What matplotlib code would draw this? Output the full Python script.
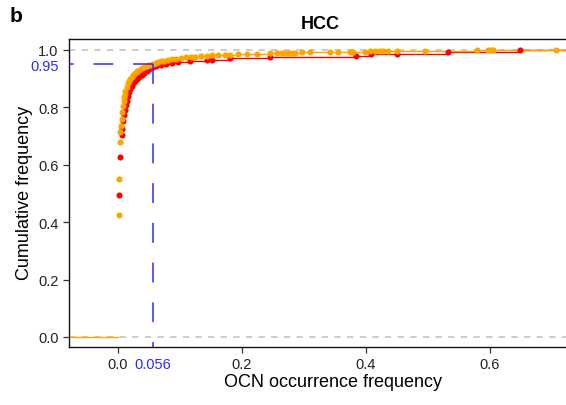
import numpy as np
import matplotlib
matplotlib.use("Agg")
import matplotlib.pyplot as plt

plt.rcParams["font.family"] = ["Liberation Sans", "DejaVu Sans"]

# cumulative frequency of OCN occurrence, one point per distinct value
red_x = [0.002, 0.004, 0.006, 0.007, 0.008, 0.010, 0.011, 0.013, 0.014, 0.016,
         0.018, 0.020, 0.022, 0.025, 0.028, 0.031, 0.034, 0.038, 0.042, 0.046,
         0.050, 0.056, 0.062, 0.070, 0.078, 0.087, 0.097, 0.116, 0.143, 0.151,
         0.181, 0.245, 0.384, 0.408, 0.450, 0.533, 0.648]
red_y = [0.495, 0.628, 0.704, 0.725, 0.754, 0.772, 0.789, 0.808, 0.823, 0.841,
         0.852, 0.864, 0.876, 0.884, 0.893, 0.900, 0.906, 0.914, 0.921, 0.927,
         0.932, 0.940, 0.944, 0.949, 0.952, 0.956, 0.958, 0.961, 0.965, 0.966,
         0.972, 0.975, 0.980, 0.985, 0.987, 0.992, 1.000]

orange_x = [0.001, 0.002, 0.003, 0.004, 0.005, 0.006, 0.007, 0.008, 0.009, 0.010,
            0.011, 0.012, 0.014, 0.016, 0.018, 0.020, 0.022, 0.025, 0.028, 0.031,
            0.034, 0.038, 0.042, 0.046, 0.049, 0.053, 0.057, 0.061, 0.065, 0.070,
            0.075, 0.081, 0.087, 0.094, 0.101, 0.109, 0.117, 0.125, 0.134, 0.143,
            0.152, 0.162, 0.172, 0.181, 0.194, 0.208, 0.224, 0.245, 0.256, 0.264,
            0.269, 0.275, 0.280, 0.285, 0.296, 0.310, 0.342, 0.355, 0.374, 0.377,
            0.379, 0.398, 0.406, 0.415, 0.423, 0.428, 0.436, 0.450, 0.495, 0.579,
            0.597, 0.602, 0.605, 0.707]
orange_y = [0.426, 0.550, 0.680, 0.715, 0.735, 0.760, 0.783, 0.806, 0.822, 0.836,
            0.848, 0.858, 0.872, 0.883, 0.892, 0.899, 0.906, 0.913, 0.920, 0.926,
            0.931, 0.936, 0.940, 0.944, 0.946, 0.949, 0.952, 0.955, 0.957, 0.960,
            0.962, 0.965, 0.968, 0.970, 0.972, 0.974, 0.976, 0.977, 0.979, 0.980,
            0.981, 0.982, 0.983, 0.984, 0.985, 0.986, 0.987, 0.988, 0.988, 0.989,
            0.989, 0.990, 0.990, 0.990, 0.991, 0.991, 0.992, 0.992, 0.993, 0.993,
            0.994, 0.994, 0.995, 0.995, 0.996, 0.996, 0.996, 0.997, 0.997, 0.998,
            0.998, 0.999, 0.999, 1.000]

cut_x = 0.056
cut_y = 0.95
xticks = [0.0, cut_x, 0.2, 0.4, 0.6]
xticklabels = ["0.0", "0.056", "0.2", "0.4", "0.6"]
yticks = [0.0, 0.2, 0.4, 0.6, 0.8, cut_y, 1.0]
yticklabels = ["0.0", "0.2", "0.4", "0.6", "0.8", "0.95", "1.0"]

xmin, xmax = -0.079, 0.7226
ymin, ymax = -0.035, 1.038

fig = plt.figure(figsize=(5.66, 4.06), dpi=100)
ax = fig.add_axes([69 / 566, 58 / 406, 1 - 69 / 566, 308 / 406])

grey = "#c8c8c8"
blue = "#2b2bff"
ax.axhline(0, color=grey, lw=1.3, ls=(0, (3.5, 3.5)), zorder=1)
ax.axhline(1, color=grey, lw=1.3, ls=(0, (3.5, 3.5)), zorder=1)

for xs, ys, col in [(red_x, red_y, "#ff0000"), (orange_x, orange_y, "#ffa500")]:
    xs = np.array(xs)
    ys = np.array(ys)
    # flat runs of the ecdf, no risers
    ax.hlines(ys, xs, np.r_[xs[1:], xmax], color=col, lw=1.0, zorder=2)
    ax.plot(xs, ys, "o", color=col, ms=4.4, mew=0, zorder=3)
# lower tail of the ecdf
ax.plot([xmin, 0.0], [0, 0], color="#ffa500", lw=1.0, zorder=2)

ax.plot([cut_x, xmin], [cut_y, cut_y], color=blue, lw=1.1, ls=(0, (13, 13)), zorder=4)
ax.plot([cut_x, cut_x], [cut_y, ymin], color=blue, lw=1.1, ls=(0, (13, 13)), zorder=4)

ax.set_xlim(xmin, xmax)
ax.set_ylim(ymin, ymax)
ax.set_xticks(xticks)
ax.set_xticklabels(xticklabels)
ax.set_yticks(yticks)
ax.set_yticklabels(yticklabels)
ax.tick_params(labelsize=10.5, length=4, width=0.9, color="#333333", labelcolor="#222222")
ax.get_xticklabels()[1].set_color(blue)
ax.get_yticklabels()[5].set_color(blue)
ax.xaxis.get_major_ticks()[1].tick1line.set_visible(False)
ax.yaxis.get_major_ticks()[5].tick1line.set_visible(False)

for s in ["left", "bottom", "top"]:
    ax.spines[s].set_linewidth(1.0)
    ax.spines[s].set_color("#111111")
ax.spines["right"].set_visible(False)

ax.set_xlabel("OCN occurrence frequency", fontsize=13)
ax.xaxis.set_label_coords(0.531, -0.083)
ax.set_ylabel("Cumulative frequency", fontsize=13)
ax.yaxis.set_label_coords(-0.073, 0.503)
ax.set_title("HCC", fontsize=13, fontweight="bold", pad=8, x=0.505)
fig.text(10 / 566, 1 - 16 / 406, "b", fontsize=15, fontweight="bold", va="center")

fig.savefig("out.png", dpi=100)
